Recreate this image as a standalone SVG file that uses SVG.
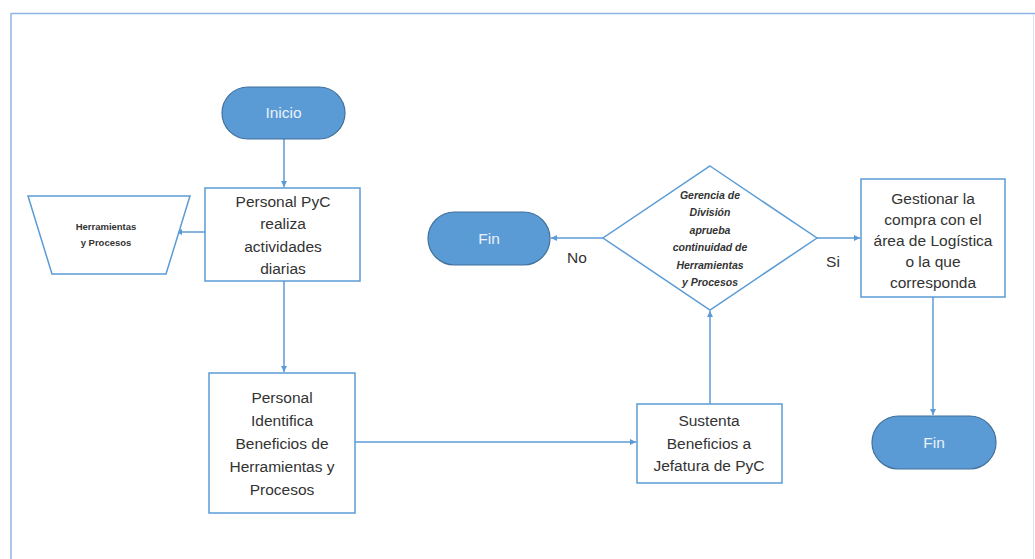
<svg xmlns="http://www.w3.org/2000/svg" width="1035" height="559" viewBox="0 0 1035 559">
<defs>
<marker id="ah" markerWidth="8" markerHeight="8" refX="6" refY="3" orient="auto" markerUnits="userSpaceOnUse">
<path d="M0,0 L6,3 L0,6 z" fill="#5b9bd5"/>
</marker>
<style>
.box{fill:#fff;stroke:#5b9bd5;stroke-width:1.5}
.term{fill:#5b9bd5;stroke:#41719c;stroke-width:1.2}
.t{font-family:"Liberation Sans",Arial,sans-serif;font-size:15.5px;fill:#333;text-anchor:middle}
.tw{font-family:"Liberation Sans",Arial,sans-serif;font-size:15.5px;fill:#eaf1fa;text-anchor:middle}
.ti{font-family:"Liberation Sans",Arial,sans-serif;font-size:10.5px;font-style:italic;font-weight:bold;fill:#333;text-anchor:middle}
.ts{font-family:"Liberation Sans",Arial,sans-serif;font-size:9.5px;font-weight:bold;fill:#333;text-anchor:middle}
.c{fill:none;stroke:#5b9bd5;stroke-width:1.5;marker-end:url(#ah)}
</style>
</defs>
<rect width="1035" height="559" fill="#fff"/>
<g id="frame">
<line x1="11" y1="13.5" x2="1035" y2="13.5" stroke="#8fb4e3" stroke-width="1.5"/>
<line x1="11" y1="13" x2="11" y2="559" stroke="#8fb4e3" stroke-width="1.5"/>
<line x1="1033.5" y1="14" x2="1033.5" y2="559" stroke="#d5e3f4" stroke-width="1"/>
</g>
<g id="connectors">
<path class="c" d="M284,139 V187"/>
<path class="c" d="M205,232 H176"/>
<path class="c" d="M284,281 V372"/>
<path class="c" d="M355,442 H636"/>
<path class="c" d="M710,404 V311"/>
<path class="c" d="M603,238 H551"/>
<path class="c" d="M817,238 H860"/>
<path class="c" d="M933,297 V415"/>
</g>
<g id="inicio">
<rect class="term" x="222" y="87" width="123" height="52" rx="26"/>
<text class="tw" x="283.5" y="118">Inicio</text>
</g>
<g id="actividades">
<rect class="box" x="205" y="188" width="155" height="93"/>
<text class="t" x="283" y="207">Personal PyC</text>
<text class="t" x="283" y="229">realiza</text>
<text class="t" x="283" y="252">actividades</text>
<text class="t" x="283" y="274">diarias</text>
</g>
<g id="herramientas">
<polygon class="box" points="28,196 190,196 166,274 52,274"/>
<text class="ts" x="106" y="230">Herramientas</text>
<text class="ts" x="106" y="246">y Procesos</text>
</g>
<g id="identifica">
<rect class="box" x="209" y="373" width="146" height="140"/>
<text class="t" x="282" y="403">Personal</text>
<text class="t" x="282" y="426">Identifica</text>
<text class="t" x="282" y="449">Beneficios de</text>
<text class="t" x="282" y="472">Herramientas y</text>
<text class="t" x="282" y="495">Procesos</text>
</g>
<g id="sustenta">
<rect class="box" x="637" y="404" width="145" height="79"/>
<text class="t" x="709" y="426">Sustenta</text>
<text class="t" x="709" y="449">Beneficios a</text>
<text class="t" x="709" y="471">Jefatura de PyC</text>
</g>
<g id="decision">
<polygon class="box" points="710,166 817,238 710,310 603,238"/>
<text class="ti" x="710" y="199">Gerencia de</text>
<text class="ti" x="710" y="216">División</text>
<text class="ti" x="710" y="234">aprueba</text>
<text class="ti" x="710" y="251">continuidad de</text>
<text class="ti" x="710" y="269">Herramientas</text>
<text class="ti" x="710" y="286">y Procesos</text>
</g>
<g id="fin1">
<rect class="term" x="428" y="212" width="122" height="53" rx="26.5"/>
<text class="tw" x="489" y="244">Fin</text>
</g>
<g id="labels">
<text class="t" x="577" y="263">No</text>
<text class="t" x="833" y="267">Si</text>
</g>
<g id="gestionar">
<rect class="box" x="861" y="179" width="144" height="118"/>
<text class="t" x="933" y="204">Gestionar la</text>
<text class="t" x="933" y="225">compra con el</text>
<text class="t" x="933" y="246">área de Logística</text>
<text class="t" x="933" y="267">o la que</text>
<text class="t" x="933" y="288">corresponda</text>
</g>
<g id="fin2">
<rect class="term" x="872" y="416" width="124" height="53" rx="26.5"/>
<text class="tw" x="934" y="448">Fin</text>
</g>
</svg>
